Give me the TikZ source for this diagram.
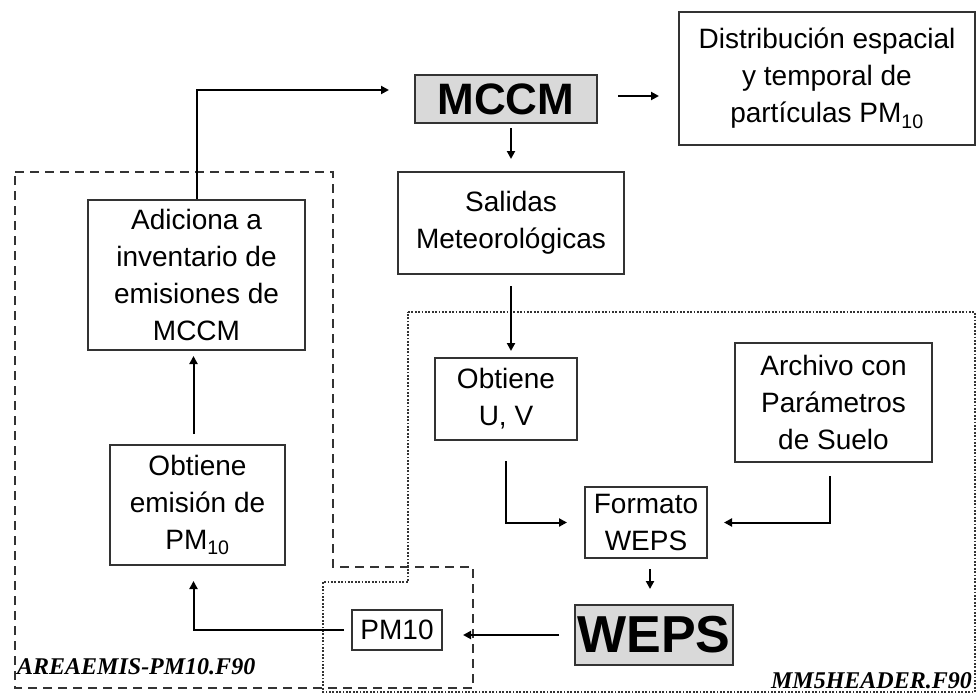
\documentclass[tikz,border=0pt]{standalone}
\usepackage{fontspec}
\setmainfont{Liberation Sans}
\newfontfamily\labfont{Liberation Serif}
\usetikzlibrary{arrows.meta}
\definecolor{ln}{HTML}{333333}
\definecolor{boxgray}{HTML}{D9D9D9}
\tikzset{
  box/.style={draw=ln, line width=2pt, fill=white, align=center, inner sep=0pt,
    font=\fontsize{28}{37}\selectfont},
  mainbox/.style={box, fill=boxgray, font=\fontsize{44}{48}\bfseries\selectfont},
  arr/.style={draw=black, line width=2pt, -{Triangle[length=8pt,width=8pt]}},
  dashedreg/.style={draw=ln, line width=2pt, dash pattern=on 9pt off 6pt},
  dottedreg/.style={draw=ln, line width=2.4pt, dash pattern=on 1.8pt off 1.6pt},
  lab/.style={font=\labfont\fontsize{24}{26}\bfseries\itshape\selectfont, inner sep=0pt}
}
\begin{document}
\begin{tikzpicture}[x=1pt,y=-1pt]
\useasboundingbox (0,0) rectangle (977,694);
% regions
\draw[dashedreg] (15,172) -- (333,172) -- (333,567) -- (473,567) -- (473,688) -- (15,688) -- cycle;
\draw[dottedreg] (408,312) -- (975,312) -- (975,692) -- (323,692) -- (323,582) -- (408,582) -- cycle;
% nodes
\node[mainbox, minimum width=182pt, minimum height=48pt] (mccm) at (506,99) {MCCM};
\node[box, minimum width=296pt, minimum height=133pt] (dist) at (827,78.5) {Distribución espacial\\y temporal de\\partículas PM\textsubscript{10}};
\node[box, minimum width=226pt, minimum height=102pt] (sal) at (511,223) {Salidas\\Meteorológicas};
\node[box, minimum width=217pt, minimum height=150pt] (adic) at (196.5,275) {Adiciona a\\inventario de\\emisiones de\\MCCM};
\node[box, minimum width=175pt, minimum height=120pt] (obem) at (197.5,505) {Obtiene\\emisión de\\PM\textsubscript{10}};
\node[box, minimum width=90pt, minimum height=40pt] (pm10) at (397,630) {PM10};
\node[mainbox, minimum width=158pt, minimum height=60pt, font=\fontsize{52}{56}\bfseries\selectfont] (weps) at (654,635) {WEPS};
\node[box, minimum width=142pt, minimum height=82pt] (uv) at (506,399) {Obtiene\\U, V};
\node[box, minimum width=197pt, minimum height=119pt] (arch) at (833.5,402.5) {Archivo con\\Parámetros\\de Suelo};
\node[box, minimum width=122pt, minimum height=71pt] (fmt) at (646,522.5) {Formato\\WEPS};
\node[lab, anchor=west] (lab1) at (17,667) {AREAEMIS-PM10.F90};
\node[lab, anchor=east] (lab2) at (972,681) {MM5HEADER.F90};
% connectors
\draw[arr, shorten >=25pt] (adic.north) |- ([yshift=9pt]mccm.west);
\draw[arr, shorten <=20pt, shorten >=19pt] ([yshift=3pt]mccm.east) -- ([yshift=3pt]mccm.east -| dist.west);
\draw[arr, shorten <=4pt, shorten >=12pt] ([xshift=5pt]mccm.south) -- ([xshift=5pt]mccm.south |- sal.north);
\draw[arr, shorten <=11pt, shorten >=6pt] (sal.south) -- (sal.south |- uv.north);
\draw[arr, shorten <=20pt, shorten >=17pt] (uv.south) |- (fmt.west);
\draw[arr, shorten <=13pt, shorten >=16pt] ([xshift=-4pt]arch.south) |- (fmt.east);
\draw[arr, shorten <=10pt, shorten >=15pt] ([xshift=4pt]fmt.south) -- ([xshift=4pt]fmt.south |- weps.north);
\draw[arr, shorten <=15pt, shorten >=20pt] (weps.west) -- (weps.west -| pm10.east);
\draw[arr, shorten <=7pt, shorten >=15pt] (pm10.west) -| ([xshift=-4pt]obem.south);
\draw[arr, shorten <=10pt, shorten >=5pt] ([xshift=-4pt]obem.north) -- ([xshift=-4pt]obem.north |- adic.south);
\end{tikzpicture}
\end{document}
